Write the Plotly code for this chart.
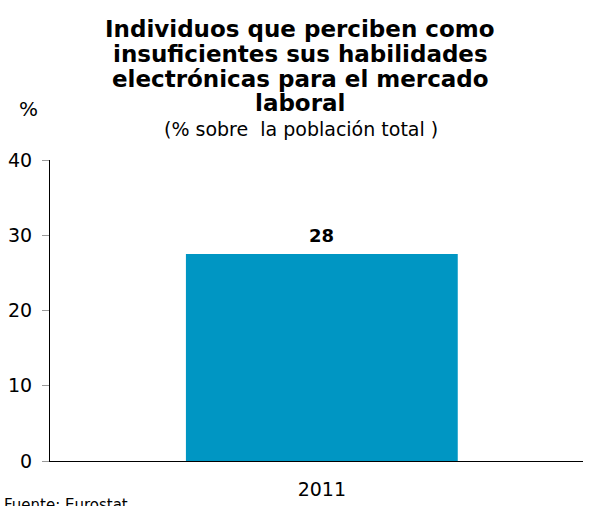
import plotly.graph_objects as go

categories = ["2011"]
values = [27.5]
labels = ["28"]
y_ticks = [0, 10, 20, 30, 40]
title_lines = ["Individuos que perciben como", "insuficientes sus habilidades",
               "electrónicas para el mercado", "laboral"]
subtitle = "(% sobre  la población total )"
y_unit = "%"
source = "Fuente: Eurostat"

W, H = 589, 506
L, R, T, B = 50, 6, 160, 37
PW, PH = W - L - R, H - T - B

def px(xp):
    return (xp - L) / PW

def py(yp):
    return (H - B - yp) / PH

fig = go.Figure()
fig.add_trace(go.Bar(
    x=categories, y=values,
    marker=dict(color="#0096C3", line=dict(width=0)),
    width=0.51, hoverinfo="skip",
))

annotations = []
for i, (val, lab) in enumerate(zip(values, labels)):
    annotations.append(dict(x=i, y=val, xref="x", yref="y", text="<b>%s</b>" % lab,
                            showarrow=False, xanchor="center", yanchor="bottom", yshift=6,
                            font=dict(size=18, color="black")))
for i, line in enumerate(title_lines):
    annotations.append(dict(text="<b>%s</b>" % line, x=px(300), y=py(26 + 25.3 * i),
                            xref="paper", yref="paper", showarrow=False,
                            xanchor="center", yanchor="middle",
                            font=dict(size=23, color="black")))
annotations.append(dict(text=subtitle, x=px(301), y=py(128), xref="paper", yref="paper",
                        showarrow=False, xanchor="center", yanchor="middle",
                        font=dict(size=19, color="black")))
annotations.append(dict(text=y_unit, x=px(28), y=py(108), xref="paper", yref="paper",
                        showarrow=False, xanchor="center", yanchor="middle",
                        font=dict(size=20, color="black")))
annotations.append(dict(text=source, x=px(2), y=py(503), xref="paper", yref="paper",
                        showarrow=False, xanchor="left", yanchor="top",
                        font=dict(size=15, color="black")))

fig.update_layout(
    width=W, height=H,
    margin=dict(l=L, r=R, t=T, b=B, pad=0),
    paper_bgcolor="white", plot_bgcolor="white",
    font=dict(family="DejaVu Sans", color="black"),
    showlegend=False,
    xaxis=dict(type="category", showline=True, linecolor="black", linewidth=1, ticks="",
               tickfont=dict(size=19), range=[-0.51, 0.49], ticklabelstandoff=11),
    yaxis=dict(range=[0, 40], tickvals=y_ticks, showgrid=False, zeroline=False,
               showline=True, linecolor="black", linewidth=1,
               ticks="outside", ticklen=7, tickcolor="#999999",
               tickfont=dict(size=19), ticklabelstandoff=6),
    annotations=annotations,
)

fig.write_html("out.html", config={"displayModeBar": False},
               post_script="document.body.style.margin='0';")
